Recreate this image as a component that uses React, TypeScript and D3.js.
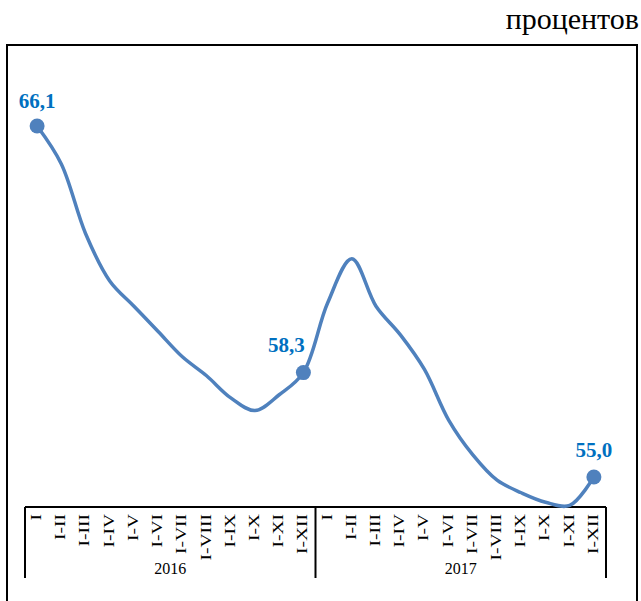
import React from "react";
import * as d3 from "d3";

// months (cumulative periods) and years
const periods = ["I", "I-II", "I-III", "I-IV", "I-V", "I-VI", "I-VII", "I-VIII", "I-IX", "I-X", "I-XI", "I-XII"];
const years = ["2016", "2017"];
const values = [
    66.1, 64.9, 62.7, 61.2, 60.4, 59.6, 58.8, 58.2, 57.5, 57.1, 57.6, 58.3,
    60.5, 61.9, 60.4, 59.5, 58.4, 56.8, 55.7, 54.9, 54.5, 54.2, 54.1, 55.0,
];
const labelled = [0, 11, 23];
const unitLabel = "процентов";

const W = 641;
const H = 601;
const axisY = 507;

const App: React.FC = () => {
    const cats = years.flatMap((y) => periods.map((p) => `${y}|${p}`));

    const x = d3.scaleBand<string>().domain(cats).range([25, 606]);
    const yScale = d3.scaleLinear().domain([54.05, 66.1]).range([axisY, 126]);
    const cx = (i: number) => (x(cats[i]) ?? 0) + x.bandwidth() / 2;

    const line = d3
        .line<number>()
        .x((_, i) => cx(i))
        .y((d) => yScale(d))
        .curve(d3.curveCatmullRom.alpha(0.5));

    const yearStart = (k: number) => x(cats[k * periods.length]) ?? 0;
    const yearEnd = (k: number) => yearStart(k) + x.bandwidth() * periods.length;

    // label offsets relative to the marker
    const labelDx: Record<number, number> = { 0: 0, 11: -17, 23: 0 };
    const labelDy: Record<number, number> = { 0: -18, 11: -21, 23: -20 };

    return (
        <svg width={W} height={H} style={{ position: "absolute", left: 0, top: 0 }} fontFamily="'Liberation Serif', 'Times New Roman', serif">
            <rect x={0} y={0} width={W} height={H} fill="#fff" />
            <text x={639} y={29} textAnchor="end" fontSize={30} fill="#000">{unitLabel}</text>
            <rect x={7} y={45} width={630} height={620} fill="none" stroke="#000" strokeWidth={2} />

            {/* category axis */}
            <line x1={25} x2={606} y1={axisY} y2={axisY} stroke="#000" strokeWidth={2} />
            {years.map((yr, k) => (
                <g key={yr}>
                    <line x1={yearStart(k)} x2={yearStart(k)} y1={axisY} y2={578} stroke="#000" strokeWidth={2} />
                    {k === years.length - 1 && (
                        <line x1={yearEnd(k)} x2={yearEnd(k)} y1={axisY} y2={578} stroke="#000" strokeWidth={2} />
                    )}
                    <text x={(yearStart(k) + yearEnd(k)) / 2} y={574} textAnchor="middle" fontSize={16} fill="#000">{yr}</text>
                </g>
            ))}
            {cats.map((c, i) => (
                <text
                    key={c}
                    transform={`translate(${cx(i) - 1},514) scale(1,1.3) rotate(-90)`}
                    textAnchor="end"
                    dy="0.33em"
                    fontSize={15}
                    fill="#000"
                >
                    {c.split("|")[1]}
                </text>
            ))}

            {/* series */}
            <path d={line(values) ?? ""} fill="none" stroke="#4F81BD" strokeWidth={3.5} strokeLinecap="round" />
            {labelled.map((i) => (
                <g key={i}>
                    <circle cx={cx(i)} cy={yScale(values[i])} r={7.5} fill="#4F81BD" />
                    <text
                        x={cx(i) + labelDx[i]}
                        y={yScale(values[i]) + labelDy[i]}
                        textAnchor="middle"
                        fontSize={21}
                        fontWeight="bold"
                        fill="#0070C0"
                    >
                        {values[i].toFixed(1).replace(".", ",")}
                    </text>
                </g>
            ))}
        </svg>
    );
};

export default App;
